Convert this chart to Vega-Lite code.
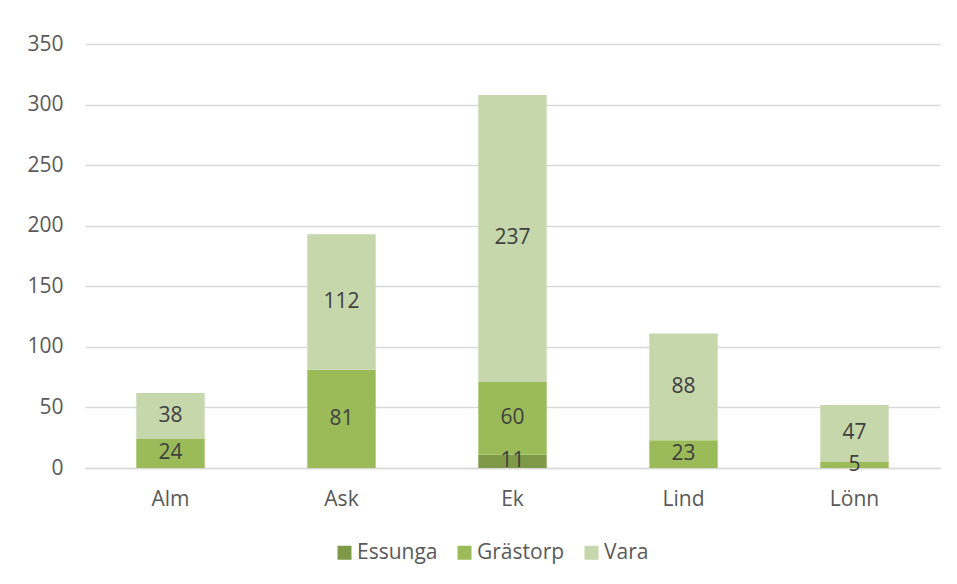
{
  "$schema": "https://vega.github.io/schema/vega-lite/v6.json",
  "width": 855,
  "height": 424,
  "autosize": "none",
  "padding": {"left": 85, "top": 44, "right": 17, "bottom": 116},
  "background": "white",
  "config": {
    "font": "Open Sans",
    "view": {"stroke": null}
  },
  "data": {
    "values": [
      {"tree": "Alm", "series": "Grästorp", "value": 24},
      {"tree": "Alm", "series": "Vara", "value": 38},
      {"tree": "Ask", "series": "Grästorp", "value": 81},
      {"tree": "Ask", "series": "Vara", "value": 112},
      {"tree": "Ek", "series": "Essunga", "value": 11},
      {"tree": "Ek", "series": "Grästorp", "value": 60},
      {"tree": "Ek", "series": "Vara", "value": 237},
      {"tree": "Lind", "series": "Grästorp", "value": 23},
      {"tree": "Lind", "series": "Vara", "value": 88},
      {"tree": "Lönn", "series": "Grästorp", "value": 5},
      {"tree": "Lönn", "series": "Vara", "value": 47}
    ]
  },
  "transform": [
    {"stack": "value", "groupby": ["tree"], "sort": [{"field": "series", "order": "ascending"}], "as": ["v0", "v1"]},
    {"calculate": "(datum.v0 + datum.v1) / 2", "as": "mid"}
  ],
  "encoding": {
    "x": {
      "field": "tree",
      "type": "nominal",
      "sort": ["Alm", "Ask", "Ek", "Lind", "Lönn"],
      "scale": {"paddingInner": 0.6, "paddingOuter": 0.3},
      "axis": {
        "title": null,
        "labelAngle": 0,
        "labelFontSize": 21,
        "labelColor": "#595959",
        "labelPadding": 20,
        "ticks": false,
        "domain": true,
        "domainColor": "#D9D9D9",
        "domainWidth": 1.5,
        "grid": false
      }
    }
  },
  "layer": [
    {
      "mark": {"type": "bar"},
      "encoding": {
        "y": {
          "field": "v0",
          "type": "quantitative",
          "scale": {"domain": [0, 350], "nice": false},
          "axis": {
            "title": null,
            "values": [0, 50, 100, 150, 200, 250, 300, 350],
            "labelFontSize": 21,
            "labelColor": "#595959",
            "labelPadding": 22,
            "ticks": false,
            "domain": false,
            "grid": true,
            "gridColor": "#D9D9D9",
            "gridWidth": 1.5
          }
        },
        "y2": {"field": "v1"},
        "color": {
          "field": "series",
          "type": "nominal",
          "scale": {
            "domain": ["Essunga", "Grästorp", "Vara"],
            "range": ["#7E9A48", "#9BBB59", "#C6D7AC"]
          },
          "legend": {
            "title": null,
            "orient": "none",
            "legendX": 249,
            "legendY": 498,
            "direction": "horizontal",
            "symbolType": "square",
            "symbolSize": 196,
            "symbolStrokeWidth": 0,
            "labelFontSize": 21,
            "labelColor": "#595959",
            "labelOffset": 2,
            "columnPadding": 16
          }
        }
      }
    },
    {
      "mark": {"type": "text", "fontSize": 21, "color": "#404040", "baseline": "middle", "align": "center"},
      "encoding": {
        "y": {"field": "mid", "type": "quantitative"},
        "text": {"field": "value", "type": "quantitative"}
      }
    }
  ]
}
